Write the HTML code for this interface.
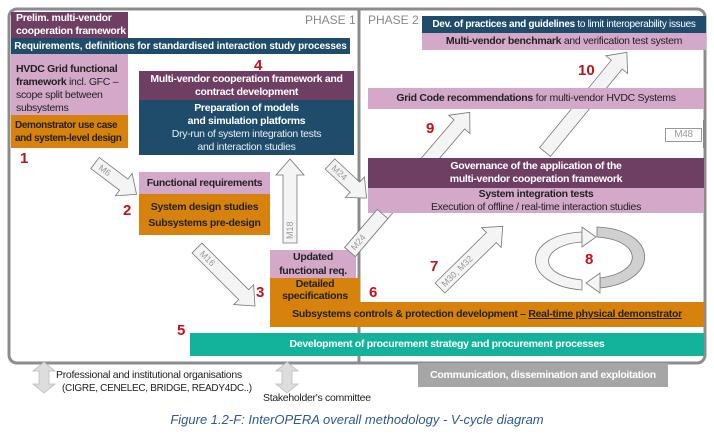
<!DOCTYPE html>
<html><head><meta charset="utf-8"><style>
body{margin:0;width:714px;height:436px;background:#fff;position:relative;overflow:hidden;font-family:"Liberation Sans",sans-serif;}
.b{position:absolute;box-sizing:border-box;font-size:11px;line-height:13px;text-align:center;letter-spacing:-0.3px;white-space:nowrap;overflow:hidden;}
.w{color:#fff;font-weight:bold}
.k{color:#222}
.pu{background:#6f3f63}.bl{background:#1f4c6b}.pk{background:#d3a8c9}.or{background:#d6820c}.te{background:#13b39b}
.n{position:absolute;color:#c0121b;font-weight:bold;font-size:15px;}
</style></head><body>
<svg style="position:absolute;left:0;top:0" width="714" height="436">
<rect x="9" y="9" width="696" height="354" rx="8" fill="none" stroke="#8c8c8c" stroke-width="3"/>
<line x1="359" y1="9" x2="359" y2="363" stroke="#8c8c8c" stroke-width="3"/>
<g fill="#f4f4f4" stroke="#777" stroke-width="0.8">
<polygon transform="translate(350,252) rotate(-49.4)" points="0,-7 168,-7 168,-14 184,0 168,14 168,7 0,7"/>
<polygon transform="translate(545,152) rotate(-50.6)" points="0,-7 113,-7 113,-14 129,0 113,14 113,7 0,7"/>
</g>
</svg>
<div class="b pu w" style="left:11px;top:12px;width:117px;height:26px;text-align:left;padding-left:5px;font-size:10.5px">Prelim. multi-vendor<br>cooperation framework</div>
<div class="b bl w" style="left:11px;top:38px;width:339px;height:16px;padding-top:2px;font-size:10px;letter-spacing:-0.1px">Requirements, definitions for standardised interaction study processes</div>
<div class="b pk k" style="left:11px;top:54px;width:117px;height:61px;text-align:left;padding:9px 0 0 5px;font-size:10.5px"><b>HVDC Grid functional<br>framework</b> incl. GFC –<br>scope split between<br>subsystems</div>
<div class="b or k" style="left:11px;top:115px;width:117px;height:33px;text-align:left;padding:4px 0 0 4px;font-weight:bold;font-size:10px;letter-spacing:-0.4px">Demonstrator use case<br>and system-level design</div>
<div style="position:absolute;left:305px;top:13px;color:#888;font-size:12px">PHASE 1</div>
<div style="position:absolute;left:368px;top:13px;color:#888;font-size:12px">PHASE 2</div>
<div class="b pu w" style="left:139px;top:71px;width:215px;height:29px;padding-top:2px;font-size:10.5px">Multi-vendor cooperation framework and<br>contract development</div>
<div class="b bl w" style="left:139px;top:100px;width:215px;height:55px;padding-top:2px;font-size:10.5px">Preparation of models<br>and simulation platforms<br><span style="font-weight:normal;color:#e8eef3">Dry-run of system integration tests<br>and interaction studies</span></div>
<div class="b pk k" style="left:139px;top:172px;width:131px;height:22px;padding-top:5px;font-weight:bold;font-size:10.5px">Functional requirements</div>
<div class="b or k" style="left:139px;top:194px;width:131px;height:41px;padding-top:5px;font-weight:bold;line-height:16px;font-size:10.5px">System design studies<br>Subsystems pre-design</div>
<div class="b pk k" style="left:270px;top:250px;width:86px;height:28px;font-weight:bold;line-height:14px;font-size:10.5px">Updated<br>functional req.</div>
<div class="b or k" style="left:270px;top:278px;width:90px;height:24px;font-weight:bold;line-height:12px;font-size:10.5px">Detailed<br>specifications</div>
<div class="b or k" style="left:270px;top:302px;width:434px;height:25px;padding-top:6px;font-weight:bold;font-size:10.5px">Subsystems controls &amp; protection development – <u>Real-time physical demonstrator</u></div>
<div class="b te w" style="left:190px;top:333px;width:514px;height:23px;padding-top:5px;font-size:10.5px">Development of procurement strategy and procurement processes</div>
<div class="b bl w" style="left:422px;top:16px;width:284px;height:17px;padding-top:2px;font-size:10px">Dev. of practices and guidelines <span style="font-weight:normal">to limit interoperability issues</span></div>
<div class="b pk k" style="left:422px;top:33px;width:284px;height:17px;padding-top:2px;font-size:10.5px"><b>Multi-vendor benchmark</b> and verification test system</div>
<div class="b pk k" style="left:368px;top:88px;width:336px;height:21px;padding-top:4px;font-size:10.5px"><b>Grid Code recommendations</b> for multi-vendor HVDC Systems</div>
<div class="b pu w" style="left:368px;top:158px;width:336px;height:30px;padding-top:2px;font-size:10.5px">Governance of the application of the<br>multi-vendor cooperation framework</div>
<div class="b pk k" style="left:368px;top:188px;width:336px;height:25px;padding-top:0px;font-size:10.5px"><b>System integration tests</b><br>Execution of offline / real-time interaction studies</div>
<div class="b" style="left:665px;top:128px;width:37px;height:14px;border:1px solid #999;color:#999;font-size:10px;line-height:12px">M48</div>
<div style="position:absolute;left:703px;top:120px;width:1px;height:28px;background:#888"></div>
<div class="b w" style="left:418px;top:363px;width:250px;height:24px;background:#a6a6a6;padding-top:6px;font-size:10.5px">Communication, dissemination and exploitation</div>
<svg style="position:absolute;left:0;top:0" width="714" height="436">
<g fill="#f4f4f4" stroke="#777" stroke-width="0.8" font-family="Liberation Sans" font-size="9" >
<polygon transform="translate(95,163) rotate(37)" points="0,-7 36,-7 36,-14 52,0 36,14 36,7 0,7"/>
<text transform="translate(95,163) rotate(37)" x="6" y="3" fill="#999" stroke="none">M6</text>
<polygon transform="translate(330,164) rotate(43)" points="0,-7 34,-7 34,-14 50,0 34,14 34,7 0,7"/>
<text transform="translate(330,164) rotate(43)" x="4" y="3" fill="#999" stroke="none">M24</text>
<polygon transform="translate(290,243) rotate(-90)" points="0,-7 68,-7 68,-14 84,0 68,14 68,7 0,7"/>
<text transform="translate(290,243) rotate(-90)" x="4" y="3" fill="#999" stroke="none">M18</text>
<polygon transform="translate(197,248) rotate(45)" points="0,-7 66,-7 66,-14 82,0 66,14 66,7 0,7"/>
<text transform="translate(197,248) rotate(45)" x="6" y="3" fill="#999" stroke="none">M16</text>
<polygon transform="translate(350,252) rotate(-49.4)" points="0,-7 50,-7 50,7 0,7"/>
<text transform="translate(350,252) rotate(-49.4)" x="4" y="3" fill="#999" stroke="none">M24</text>
<polygon transform="translate(440,288) rotate(-44.5)" points="0,-7 72,-7 72,-14 88,0 72,14 72,7 0,7"/>
<text transform="translate(440,288) rotate(-44.5)" x="4" y="3" fill="#999" stroke="none">M30, M32</text>
<path d="M582,232 C520,235 520,285 582,290 L582,280 C535,275 540,245 582,242 Z" fill="#f4f4f4"/>
<polygon points="582,227 582,247 596,237" fill="#f4f4f4"/>
<path d="M597,227 C660,230 660,282 600,288 L600,278 C645,272 642,240 597,237 Z" fill="#d0d0d0"/>
<polygon points="600,273 600,293 586,283" fill="#f4f4f4"/>
</g>
<g fill="#ddd" stroke="#bbb" stroke-width="0.8">
<polygon points="44,362 55,371 49,371 49,384 55,384 44,393 33,384 39,384 39,371 33,371"/>
<polygon points="287,362 298,371 292,371 292,384 298,384 287,393 276,384 282,384 282,371 276,371"/>
</g>
</svg>
<div class="n" style="left:20px;top:150px">1</div>
<div class="n" style="left:123px;top:202px">2</div>
<div class="n" style="left:256px;top:284px">3</div>
<div class="n" style="left:254px;top:57px">4</div>
<div class="n" style="left:177px;top:322px">5</div>
<div class="n" style="left:369px;top:284px">6</div>
<div class="n" style="left:430px;top:258px">7</div>
<div class="n" style="left:585px;top:251px">8</div>
<div class="n" style="left:426px;top:120px">9</div>
<div class="n" style="left:578px;top:62px">10</div>
<div style="position:absolute;left:56px;top:369px;font-size:10.5px;color:#222;letter-spacing:-0.3px">Professional and institutional organisations</div>
<div style="position:absolute;left:62px;top:383px;font-size:10px;color:#222;letter-spacing:-0.3px">(CIGRE, CENELEC, BRIDGE, READY4DC..)</div>
<div style="position:absolute;left:263px;top:392px;font-size:10.5px;color:#222;letter-spacing:-0.3px">Stakeholder's committee</div>
<div style="position:absolute;left:0;width:714px;top:412px;text-align:center;font-size:13px;font-style:italic;color:#2e5a8c">Figure 1.2-F: InterOPERA overall methodology - V-cycle diagram</div>
</body></html>
